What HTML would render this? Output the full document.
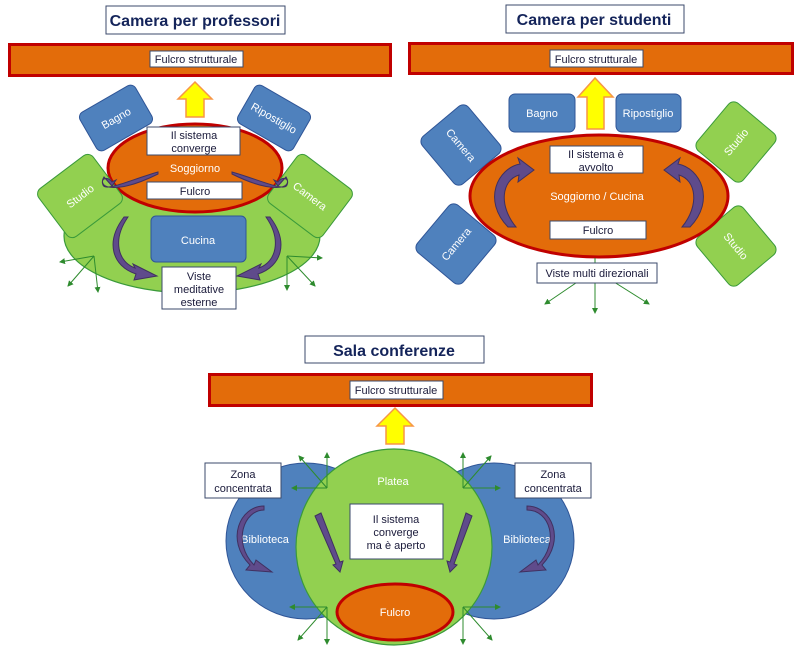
<!DOCTYPE html>
<html><head><meta charset="utf-8"><style>
html,body{margin:0;padding:0;background:#fff;}
svg{display:block;font-family:"Liberation Sans",sans-serif;}
.w{fill:#fff;font-size:11px;}
.k{fill:#1a1a3a;font-size:11px;}
.t{fill:#14245a;font-size:16px;font-weight:bold;}
</style></head><body>
<svg width="800" height="650" viewBox="0 0 800 650" xmlns="http://www.w3.org/2000/svg">
<defs>
<marker id="ga" markerWidth="6" markerHeight="6" refX="5" refY="3" orient="auto"><path d="M0,0 L6,3 L0,6 Z" fill="#2e8b2e"/></marker>
</defs>
<g text-anchor="middle">

<!-- ===== TOP LEFT ===== -->
<rect x="106" y="6" width="179" height="28" fill="#fff" stroke="#3b4a6b" stroke-width="1"/>
<text x="195" y="26" class="t">Camera per professori</text>
<rect x="9.5" y="44.5" width="381" height="31" fill="#e36c0a" stroke="#c00000" stroke-width="3"/>
<rect x="150" y="51" width="93" height="16" fill="#fff" stroke="#3b4a6b"/>
<text x="196" y="63" class="k">Fulcro strutturale</text>
<path d="M186,117 L204,117 L204,99 L212,99 L195,82 L178,99 L186,99 Z" fill="#ffff00" stroke="#f79646" stroke-width="1.5"/>

<ellipse cx="192" cy="236" rx="128" ry="57" fill="#92d050" stroke="#3a9a3a" stroke-width="1.2"/>
<g transform="translate(116,118) rotate(-30)"><rect x="-32" y="-22" width="64" height="44" rx="6" fill="#4f81bd" stroke="#2f5597"/><text x="0" y="4" class="w">Bagno</text></g>
<g transform="translate(274,118) rotate(30)"><rect x="-32" y="-22" width="64" height="44" rx="6" fill="#4f81bd" stroke="#2f5597"/><text x="0" y="4" class="w">Ripostiglio</text></g>
<ellipse cx="195" cy="168" rx="87" ry="44" fill="#e36c0a" stroke="#c00000" stroke-width="3"/>
<g transform="translate(80,196) rotate(-37)"><rect x="-34" y="-30" width="68" height="60" rx="7" fill="#92d050" stroke="#3a9a3a"/><text x="0" y="4" class="w">Studio</text></g>
<g transform="translate(310,196) rotate(37)"><rect x="-34" y="-30" width="68" height="60" rx="7" fill="#92d050" stroke="#3a9a3a"/><text x="0" y="4" class="w">Camera</text></g>
<rect x="147" y="127" width="93" height="28" fill="#fff" stroke="#3b4a6b"/>
<text x="194" y="139" class="k">Il sistema</text><text x="194" y="152" class="k">converge</text>
<text x="195" y="172" class="w">Soggiorno</text>
<rect x="147" y="182" width="95" height="17" fill="#fff" stroke="#3b4a6b"/>
<text x="195" y="195" class="k">Fulcro</text>
<rect x="151" y="216" width="95" height="46" rx="5" fill="#4f81bd" stroke="#2f5597"/>
<text x="198" y="244" class="w">Cucina</text>
<rect x="162" y="267" width="74" height="42" fill="#fff" stroke="#3b4a6b"/>
<text x="199" y="280" class="k">Viste</text><text x="199" y="293" class="k">meditative</text><text x="199" y="306" class="k">esterne</text>
<!-- purple arrows -->
<path d="M158,172 C130,180 105,192 103,185 C100,178 108,176 112,182 L116,180 L112,186 L104,177 C96,190 120,193 158,174 Z" fill="#5f4b8b" stroke="#403060"/>
<path d="M232,172 C260,180 285,192 287,185 C290,178 282,176 278,182 L274,180 L278,186 L286,177 C294,190 270,193 232,174 Z" fill="#5f4b8b" stroke="#403060"/>
<path d="M128,217 C112,240 118,262 135,268 L133,264 L157,276 L134,280 L136,274 C112,266 105,242 124,217 Z" fill="#5f4b8b" stroke="#403060"/>
<path d="M266,217 C282,240 276,262 259,268 L261,264 L237,276 L260,280 L258,274 C282,266 289,242 270,217 Z" fill="#5f4b8b" stroke="#403060"/>
<g stroke="#2e8b2e" stroke-width="1" fill="none" marker-end="url(#ga)">
<line x1="94" y1="256" x2="60" y2="262"/><line x1="94" y1="256" x2="68" y2="286"/><line x1="94" y1="256" x2="98" y2="292"/>
<line x1="287" y1="256" x2="322" y2="258"/><line x1="287" y1="256" x2="315" y2="286"/><line x1="287" y1="256" x2="287" y2="290"/>
</g>

<!-- ===== TOP RIGHT ===== -->
<rect x="506" y="5" width="178" height="28" fill="#fff" stroke="#3b4a6b"/>
<text x="594" y="25" class="t">Camera per studenti</text>
<rect x="409.5" y="43.5" width="383" height="30" fill="#e36c0a" stroke="#c00000" stroke-width="3"/>
<rect x="550" y="50" width="93" height="17" fill="#fff" stroke="#3b4a6b"/>
<text x="596" y="63" class="k">Fulcro strutturale</text>
<path d="M587,129 L604,129 L604,97 L613,97 L595,78 L578,97 L587,97 Z" fill="#ffff00" stroke="#f79646" stroke-width="1.5"/>
<rect x="509" y="94" width="66" height="38" rx="6" fill="#4f81bd" stroke="#2f5597"/>
<text x="542" y="117" class="w">Bagno</text>
<rect x="616" y="94" width="65" height="38" rx="6" fill="#4f81bd" stroke="#2f5597"/>
<text x="648" y="117" class="w">Ripostiglio</text>
<g transform="translate(461,145) rotate(50)"><rect x="-31" y="-30" width="62" height="60" rx="7" fill="#4f81bd" stroke="#2f5597"/><text x="0" y="4" class="w">Camera</text></g>
<g transform="translate(456,244) rotate(-50)"><rect x="-31" y="-30" width="62" height="60" rx="7" fill="#4f81bd" stroke="#2f5597"/><text x="0" y="4" class="w">Camera</text></g>
<g transform="translate(736,142) rotate(-50)"><rect x="-31" y="-30" width="62" height="60" rx="7" fill="#92d050" stroke="#3a9a3a"/><text x="0" y="4" class="w">Studio</text></g>
<g transform="translate(736,246) rotate(50)"><rect x="-31" y="-30" width="62" height="60" rx="7" fill="#92d050" stroke="#3a9a3a"/><text x="0" y="4" class="w">Studio</text></g>
<ellipse cx="599" cy="196" rx="129" ry="61" fill="#e36c0a" stroke="#c00000" stroke-width="3"/>
<rect x="550" y="146" width="93" height="27" fill="#fff" stroke="#3b4a6b"/>
<text x="596" y="158" class="k">Il sistema è</text><text x="596" y="171" class="k">avvolto</text>
<text x="597" y="200" class="w">Soggiorno / Cucina</text>
<rect x="550" y="221" width="96" height="18" fill="#fff" stroke="#3b4a6b"/>
<text x="598" y="234" class="k">Fulcro</text>
<path d="M508,227 C482,200 498,168 520,164 L518,158 L534,170 L518,182 L519,175 C502,180 498,205 516,227 Z" fill="#5f4b8b" stroke="#403060"/>
<path d="M690,227 C716,200 700,168 678,164 L680,158 L664,170 L680,182 L679,175 C696,180 700,205 682,227 Z" fill="#5f4b8b" stroke="#403060"/>
<g stroke="#2e8b2e" stroke-width="1" fill="none" marker-end="url(#ga)">
<line x1="595" y1="270" x2="545" y2="304"/><line x1="595" y1="258" x2="595" y2="313"/><line x1="595" y1="270" x2="649" y2="304"/>
</g>
<rect x="537" y="263" width="120" height="20" fill="#fff" stroke="#3b4a6b"/>
<text x="597" y="277" class="k">Viste multi direzionali</text>

<!-- ===== BOTTOM ===== -->
<rect x="305" y="336" width="179" height="27" fill="#fff" stroke="#3b4a6b"/>
<text x="394" y="356" class="t">Sala conferenze</text>
<rect x="209.5" y="374.5" width="382" height="31" fill="#e36c0a" stroke="#c00000" stroke-width="3"/>
<rect x="350" y="381" width="93" height="18" fill="#fff" stroke="#3b4a6b"/>
<text x="396" y="394" class="k">Fulcro strutturale</text>
<path d="M386,444 L404,444 L404,426 L413,426 L395,408 L377,426 L386,426 Z" fill="#ffff00" stroke="#f79646" stroke-width="1.5"/>
<ellipse cx="306" cy="541" rx="80" ry="78" fill="#4f81bd" stroke="#2f5597"/>
<ellipse cx="494" cy="541" rx="80" ry="78" fill="#4f81bd" stroke="#2f5597"/>
<circle cx="394" cy="547" r="98" fill="#92d050" stroke="#3a9a3a" stroke-width="1.2"/>
<ellipse cx="395" cy="612" rx="58" ry="28" fill="#e36c0a" stroke="#c00000" stroke-width="3"/>
<text x="395" y="616" class="w">Fulcro</text>
<text x="393" y="485" class="w">Platea</text>
<text x="265" y="543" class="w">Biblioteca</text>
<text x="527" y="543" class="w">Biblioteca</text>
<rect x="205" y="463" width="76" height="35" fill="#fff" stroke="#3b4a6b"/>
<text x="243" y="478" class="k">Zona</text><text x="243" y="492" class="k">concentrata</text>
<rect x="515" y="463" width="76" height="35" fill="#fff" stroke="#3b4a6b"/>
<text x="553" y="478" class="k">Zona</text><text x="553" y="492" class="k">concentrata</text>
<rect x="350" y="504" width="93" height="55" fill="#fff" stroke="#3b4a6b"/>
<text x="396" y="523" class="k">Il sistema</text><text x="396" y="536" class="k">converge</text><text x="396" y="549" class="k">ma è aperto</text>
<!-- purple -->
<path d="M264,506 C240,506 225,540 250,565 L246,570 L272,572 L256,560 L254,565 C232,542 244,510 264,510 Z" fill="#5f4b8b" stroke="#403060"/>
<path d="M527,510 C550,510 560,542 538,565 L536,560 L520,572 L546,570 L542,565 C566,540 552,506 527,506 Z" fill="#5f4b8b" stroke="#403060"/>
<path d="M315,516 L321,513 L340,562 L343,561 L340,572 L333,565 L336,564 Z" fill="#5f4b8b" stroke="#403060"/>
<path d="M472,516 L466,513 L450,562 L447,561 L450,572 L457,565 L454,564 Z" fill="#5f4b8b" stroke="#403060"/>
<g stroke="#2e8b2e" stroke-width="1" fill="none" marker-end="url(#ga)">
<line x1="327" y1="488" x2="299" y2="456"/><line x1="327" y1="488" x2="327" y2="453"/><line x1="327" y1="488" x2="292" y2="488"/>
<line x1="463" y1="488" x2="491" y2="456"/><line x1="463" y1="488" x2="463" y2="453"/><line x1="463" y1="488" x2="500" y2="488"/>
<line x1="327" y1="607" x2="290" y2="607"/><line x1="327" y1="607" x2="298" y2="640"/><line x1="327" y1="607" x2="327" y2="644"/>
<line x1="463" y1="607" x2="500" y2="607"/><line x1="463" y1="607" x2="492" y2="640"/><line x1="463" y1="607" x2="463" y2="644"/>
</g>
</g>
</svg>
</body></html>
